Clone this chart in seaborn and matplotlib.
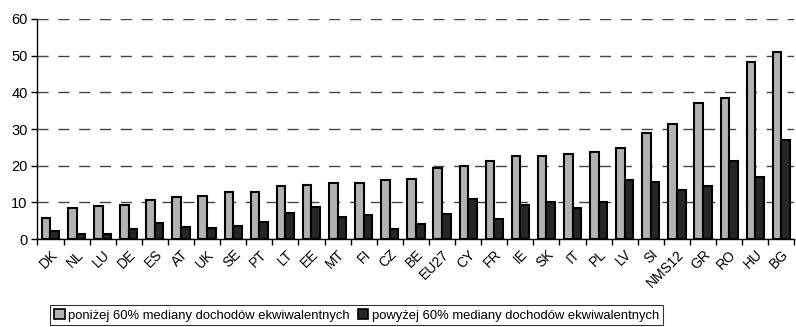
import numpy as np
import pandas as pd
import seaborn as sns
import matplotlib.pyplot as plt

countries = ['DK', 'NL', 'LU', 'DE', 'ES', 'AT', 'UK', 'SE', 'PT', 'LT', 'EE', 'MT', 'FI', 'CZ', 'BE',
             'EU27', 'CY', 'FR', 'IE', 'SK', 'IT', 'PL', 'LV', 'SI', 'NMS12', 'GR', 'RO', 'HU', 'BG']
below = [5.8, 8.4, 9.0, 9.2, 10.7, 11.5, 11.6, 12.8, 12.8, 14.4, 14.7, 15.3, 15.4, 16.2, 16.4,
         19.5, 19.8, 21.3, 22.6, 22.7, 23.1, 23.7, 24.7, 28.9, 31.3, 37.2, 38.5, 48.4, 51.0]
above = [2.2, 1.5, 1.3, 2.7, 4.3, 3.3, 3.1, 3.5, 4.6, 7.1, 8.8, 6.0, 6.5, 2.8, 4.2,
         6.8, 10.9, 5.5, 9.3, 10.0, 8.4, 10.2, 16.1, 15.5, 13.5, 14.5, 21.4, 16.9, 26.9]
series = ['poniżej 60% mediany dochodów ekwiwalentnych', 'powyżej 60% mediany dochodów ekwiwalentnych']

df = pd.DataFrame({
    'kraj': countries * 2,
    'wartosc': below + above,
    'grupa': [series[0]] * len(countries) + [series[1]] * len(countries),
})

sns.set_style('white')
plt.rcParams['font.family'] = ['Liberation Sans', 'DejaVu Sans']
plt.rcParams['text.color'] = 'black'
plt.rcParams['xtick.color'] = 'black'
plt.rcParams['ytick.color'] = 'black'

fig = plt.figure(figsize=(7.96, 3.27), dpi=100)
ax = fig.add_axes([0.047, 0.269, 0.951, 0.673])

sns.barplot(data=df, x='kraj', y='wartosc', hue='grupa', palette=['#b2b2b2', '#262626'],
            edgecolor='black', linewidth=1.5, width=0.66, ax=ax)

ax.set_ylim(0, 60)
ax.set_xlim(-0.5, len(countries) - 0.5)
ax.set_yticks(range(0, 61, 10))
ax.yaxis.grid(True, color='#444444', linestyle=(0, (8, 7)), linewidth=1)
ax.set_axisbelow(True)
ax.set_xlabel('')
ax.set_ylabel('')

for side in ['top', 'right']:
    ax.spines[side].set_visible(False)
for side in ['left', 'bottom']:
    ax.spines[side].set_color('black')
    ax.spines[side].set_linewidth(1)

ax.set_xticks(range(len(countries)))
ax.set_xticklabels(countries, rotation=45, ha='right', rotation_mode='anchor', fontsize=10)
ax.set_xticks(np.arange(-0.5, len(countries), 1), minor=True)
ax.tick_params(axis='x', which='major', length=0, pad=6)
ax.tick_params(axis='x', which='minor', length=4, width=1, color='black', direction='out')
ax.tick_params(axis='y', length=4, width=1, color='black', direction='out', labelsize=10.5, pad=3)
ax.tick_params(bottom=True, left=True, which='both')

leg = ax.legend(loc='upper left', bbox_to_anchor=(0.063, 0.067), bbox_transform=fig.transFigure,
                ncol=2, frameon=True, fancybox=False, fontsize=9.4, handlelength=0.8,
                handleheight=0.8, handletextpad=0.3, columnspacing=0.6, borderpad=0.3,
                borderaxespad=0)
leg.get_frame().set_edgecolor('black')
leg.get_frame().set_linewidth(0.8)
for h in leg.legend_handles:
    h.set_edgecolor('black')
    h.set_linewidth(1.2)

fig.savefig('out.png', dpi=100)
